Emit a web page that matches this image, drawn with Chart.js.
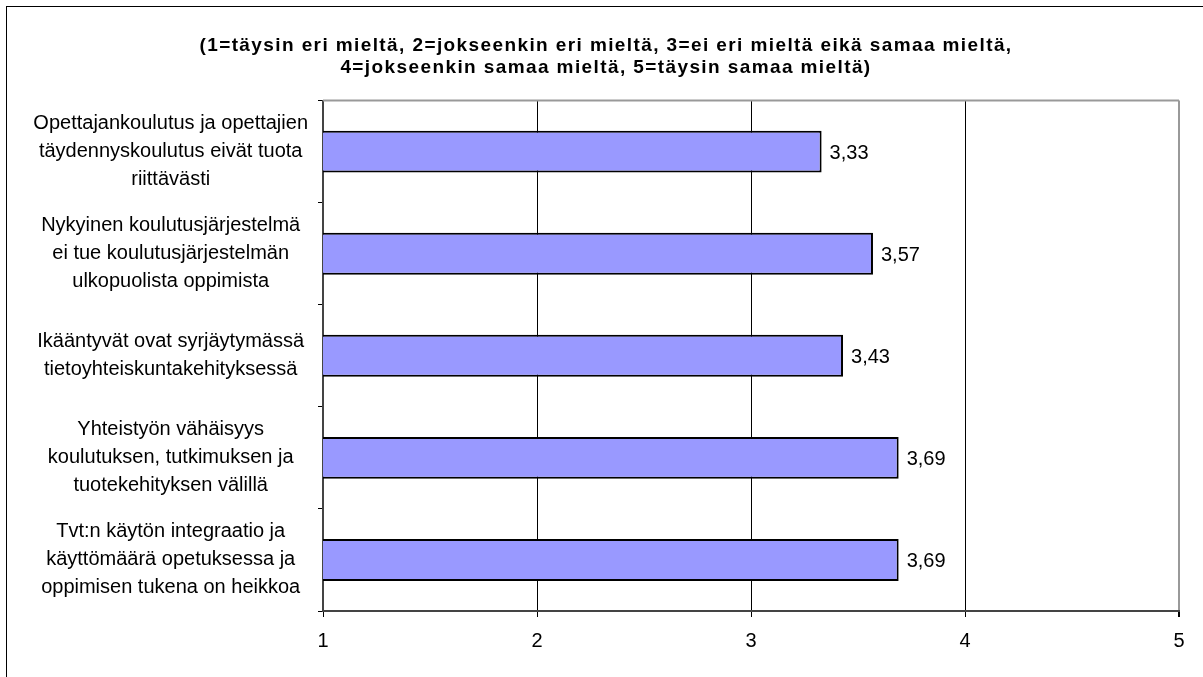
<!DOCTYPE html>
<html><head><meta charset="utf-8">
<script src="https://cdn.jsdelivr.net/npm/chart.js@4.4.1/dist/chart.umd.min.js"></script>
<style>
html,body{margin:0;padding:0;background:#fff;overflow:hidden;}
#wrap{position:relative;width:1203px;height:677px;overflow:hidden;}
#frame{position:absolute;left:6px;top:6px;width:1300px;height:800px;border:1px solid #000;box-sizing:border-box;pointer-events:none;}
canvas{position:absolute;left:0;top:0;}
</style></head>
<body><div id="wrap"><canvas id="c" width="1203" height="677"></canvas><div id="frame"></div></div>
<script>
const categories = [
  ["Opettajankoulutus ja opettajien", "täydennyskoulutus eivät tuota", "riittävästi"],
  ["Nykyinen koulutusjärjestelmä", "ei tue koulutusjärjestelmän", "ulkopuolista oppimista"],
  ["Ikääntyvät ovat syrjäytymässä", "tietoyhteiskuntakehityksessä"],
  ["Yhteistyön vähäisyys", "koulutuksen, tutkimuksen ja", "tuotekehityksen välillä"],
  ["Tvt:n käytön integraatio ja", "käyttömäärä opetuksessa ja", "oppimisen tukena on heikkoa"]
];
const values = [3.33, 3.57, 3.43, 3.69, 3.69];
const xMin = 1, xMax = 5, xStep = 1;
const titleLines = [
  "(1=täysin eri mieltä, 2=jokseenkin eri mieltä, 3=ei eri mieltä eikä samaa mieltä,",
  "4=jokseenkin samaa mieltä, 5=täysin samaa mieltä)"
];

const FONT = '"Liberation Sans", Arial, sans-serif';
const fmt = v => v.toFixed(2).replace('.', ',');

const helpers = {
  id: 'helpers',
  beforeDraw(chart) {
    const tb = chart.titleBlock;
    if (tb && !tb.__ls) {
      const orig = tb.draw;
      tb.draw = function (...a) {
        const c = this.ctx; c.save(); c.letterSpacing = '1.4px'; orig.apply(this, a); c.restore();
      };
      tb.__ls = true;
    }
  },
  beforeDatasetsDraw(chart) {
    const a = chart.chartArea, ctx = chart.ctx;
    ctx.save(); ctx.strokeStyle = '#999'; ctx.lineWidth = 2;
    ctx.beginPath(); ctx.moveTo(a.left, a.top); ctx.lineTo(a.right, a.top); ctx.stroke();
    ctx.restore();
  },
  afterDatasetsDraw(chart) {
    const ctx = chart.ctx, meta = chart.getDatasetMeta(0);
    ctx.save(); ctx.font = '20px ' + FONT; ctx.fillStyle = '#000';
    ctx.textBaseline = 'middle'; ctx.textAlign = 'left';
    meta.data.forEach((bar, i) => ctx.fillText(fmt(values[i]), bar.x + 8, bar.y + 2));
    ctx.restore();
  }
};

Chart.defaults.font.family = FONT;
Chart.defaults.color = '#000';

new Chart(document.getElementById('c'), {
  type: 'bar',
  data: {
    labels: categories,
    datasets: [{
      data: values,
      backgroundColor: '#9999FF',
      borderColor: '#000',
      borderWidth: 2,
      borderSkipped: false,
      barPercentage: 0.41,
      categoryPercentage: 1
    }]
  },
  options: {
    indexAxis: 'y',
    responsive: false,
    animation: false,
    layout: { padding: { left: 33, right: 24, top: 0, bottom: 0 } },
    plugins: {
      legend: { display: false },
      tooltip: { enabled: false },
      title: {
        display: true, text: titleLines, color: '#000',
        font: { family: FONT, size: 19, weight: 'bold', lineHeight: 1.2 },
        padding: { top: 34, bottom: 21 }
      }
    },
    scales: {
      x: {
        type: 'linear', min: xMin, max: xMax,
        ticks: { stepSize: xStep, color: '#000', font: { size: 20 }, padding: 12 },
        grid: {
          color: c => (c.tick && c.tick.value === xMax) ? '#999' : '#000',
          lineWidth: c => (c.tick && c.tick.value === xMax) ? 2 : 1,
          tickColor: '#000', tickLength: 6
        },
        border: { color: '#444', width: 2 },
        afterFit(s) { s.height = 66; }
      },
      y: {
        ticks: { color: '#000', font: { size: 20, lineHeight: 1.4 }, crossAlign: 'center', padding: 10 },
        grid: { drawOnChartArea: false, tickLength: 5, color: '#000' },
        border: { color: '#444', width: 2 },
        afterFit(s) { s.width = 290; }
      }
    }
  },
  plugins: [helpers]
});
</script>
</body></html>
